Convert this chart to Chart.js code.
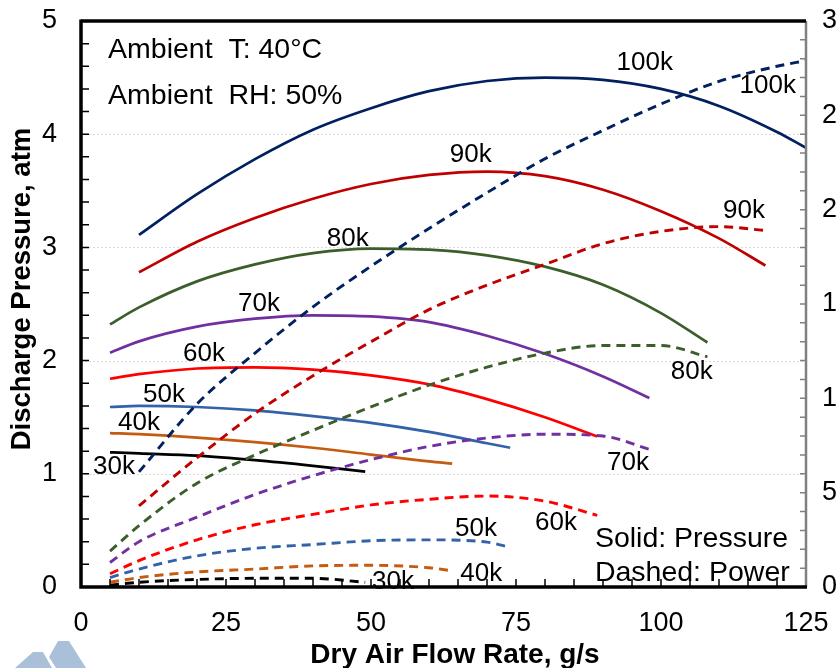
<!DOCTYPE html>
<html>
<head>
<meta charset="utf-8">
<script src="https://cdn.jsdelivr.net/npm/chart.js@4.4.0/dist/chart.umd.min.js"></script>
<style>
  html, body { margin: 0; padding: 0; background: #fff; }
  canvas { display: block; }
</style>
</head>
<body>
<canvas id="c" width="837" height="668"></canvas>
<script>
// compressor map: solid = discharge pressure (atm, left), dashed = power (right axis 0-30)
const flow100 = [10, 20, 30, 40, 50, 60, 70, 80, 90, 100, 110, 120, 125];
const pres100 = [3.11, 3.47, 3.78, 4.04, 4.23, 4.38, 4.47, 4.50, 4.48, 4.40, 4.25, 4.02, 3.88];
const powr100 = [6.1, 9.7, 12.4, 14.85, 17.0, 19.0, 20.9, 22.7, 24.2, 25.6, 26.8, 27.6, 27.9];

const flow90 = [10, 20, 30, 40, 50, 60, 70, 80, 90, 100, 110, 118];
const pres90 = [2.78, 3.05, 3.26, 3.43, 3.56, 3.64, 3.67, 3.63, 3.51, 3.32, 3.08, 2.84];
const powr90 = [4.3, 6.85, 9.2, 11.2, 13.0, 14.7, 16.0, 17.1, 18.2, 18.85, 19.1, 18.9];

const flow80 = [5, 10, 20, 30, 40, 50, 60, 70, 80, 90, 100, 108];
const pres80 = [2.32, 2.47, 2.70, 2.85, 2.95, 2.99, 2.98, 2.93, 2.83, 2.67, 2.42, 2.16];
const powr80 = [1.9, 3.25, 5.5, 7.0, 8.3, 9.55, 10.7, 11.65, 12.4, 12.8, 12.8, 12.2];

const flow70 = [5, 10, 20, 30, 40, 50, 60, 70, 80, 90, 98];
const pres70 = [2.07, 2.17, 2.30, 2.37, 2.40, 2.39, 2.34, 2.22, 2.06, 1.86, 1.67];
const powr70 = [1.3, 2.4, 3.7, 4.9, 5.9, 6.75, 7.45, 7.9, 8.1, 8.0, 7.3];

const flow60 = [5, 10, 20, 30, 40, 50, 60, 70, 80, 89];
const pres60 = [1.84, 1.88, 1.93, 1.94, 1.92, 1.87, 1.79, 1.66, 1.50, 1.33];
const powr60 = [0.7, 1.4, 2.5, 3.3, 3.85, 4.35, 4.65, 4.82, 4.55, 3.8];

const flow50 = [5, 10, 20, 30, 40, 50, 60, 70, 74];
const pres50 = [1.59, 1.60, 1.59, 1.56, 1.51, 1.45, 1.37, 1.27, 1.23];
const powr50 = [0.5, 0.95, 1.65, 2.05, 2.25, 2.45, 2.5, 2.38, 2.1];

const flow40 = [5, 10, 20, 30, 40, 50, 60, 64];
const pres40 = [1.36, 1.35, 1.32, 1.28, 1.23, 1.17, 1.11, 1.09];
const powr40 = [0.25, 0.5, 0.8, 0.95, 1.12, 1.15, 1.02, 0.86];

const flow30 = [5, 10, 20, 30, 40, 49];
const pres30 = [1.19, 1.18, 1.16, 1.12, 1.07, 1.02];
const powr30 = [0.1, 0.25, 0.4, 0.46, 0.46, 0.25];

const speeds = ["100k", "90k", "80k", "70k", "60k", "50k", "40k", "30k"];
const flows = [flow100, flow90, flow80, flow70, flow60, flow50, flow40, flow30];
const pressures = [pres100, pres90, pres80, pres70, pres60, pres50, pres40, pres30];
const powers = [powr100, powr90, powr80, powr70, powr60, powr50, powr40, powr30];
const colors = ["#002060", "#C00000", "#3B5E2B", "#7030A0", "#FF0000", "#3462A8", "#C55A11", "#000000"];

// curve labels: [text, flow, pressure-axis value]
const curveLabels = [
  ["100k", 97.2, 4.63], ["100k", 118.4, 4.43],
  ["90k", 67.2, 3.82], ["90k", 114.3, 3.32],
  ["80k", 46.0, 3.08], ["80k", 105.3, 1.90],
  ["70k", 30.7, 2.50], ["70k", 94.3, 1.10],
  ["60k", 21.2, 2.06], ["60k", 81.9, 0.57],
  ["50k", 14.3, 1.70], ["50k", 68.1, 0.51],
  ["40k", 10.0, 1.45], ["40k", 69.0, 0.115],
  ["30k", 5.7, 1.06], ["30k", 53.8, 0.05]
];
const notes = [
  ["Ambient  T: 40°C", 4.66, 4.74],
  ["Ambient  RH: 50%", 4.66, 4.34],
  ["Solid: Pressure", 88.6, 0.42],
  ["Dashed: Power", 88.6, 0.124]
];

const FONT = "'Liberation Sans', Arial, sans-serif";

const datasets = [];
speeds.forEach((s, i) => {
  const xs = flows[i];
  datasets.push({
    label: s + " pressure",
    data: xs.map((x, j) => ({ x, y: pressures[i][j] })),
    yAxisID: "y",
    borderColor: colors[i],
    borderWidth: 2.7,
    showLine: true,
    pointRadius: 0,
    cubicInterpolationMode: "monotone"
  });
  datasets.push({
    label: s + " power",
    data: xs.map((x, j) => ({ x, y: powers[i][j] })),
    yAxisID: "y2",
    borderColor: colors[i],
    borderWidth: 2.9,
    borderDash: [9, 6],
    showLine: true,
    pointRadius: 0,
    cubicInterpolationMode: "monotone"
  });
});

const framePlugin = {
  id: "frame",
  beforeDatasetsDraw(chart) {
    const { ctx, chartArea: a, scales } = chart;
    ctx.save();
    ctx.strokeStyle = "#d9d9d9";
    ctx.lineWidth = 1;
    ctx.setLineDash([2, 2]);
    for (let v = 1; v <= 4; v++) {
      const y = Math.round(scales.y.getPixelForValue(v)) + 0.5;
      ctx.beginPath();
      ctx.moveTo(a.left, y);
      ctx.lineTo(a.right, y);
      ctx.stroke();
    }
    ctx.restore();
  },
  afterDatasetsDraw(chart) {
    const { ctx, chartArea: a, scales } = chart;
    const { x, y, y2 } = scales;
    ctx.save();
    ctx.setLineDash([]);

    // minor ticks, pointing inward
    ctx.strokeStyle = "#000";
    ctx.lineWidth = 1.5;
    ctx.beginPath();
    for (let v = 0; v <= 5.001; v += 0.2) {
      const py = y.getPixelForValue(v);
      ctx.moveTo(a.left, py);
      ctx.lineTo(a.left + 8, py);
    }
    for (let v = 0; v <= 125; v += 5) {
      const px = x.getPixelForValue(v);
      ctx.moveTo(px, a.bottom);
      ctx.lineTo(px, a.bottom - 8);
    }
    ctx.stroke();

    ctx.strokeStyle = "#808080";
    ctx.beginPath();
    for (let v = 0; v <= 30; v += 1) {
      const py = y2.getPixelForValue(v);
      ctx.moveTo(a.right, py);
      ctx.lineTo(a.right - 6, py);
    }
    ctx.stroke();

    // frame
    ctx.lineWidth = 2.5;
    ctx.strokeStyle = "#808080";
    ctx.beginPath();
    ctx.moveTo(a.right, a.top);
    ctx.lineTo(a.right, a.bottom);
    ctx.stroke();
    ctx.strokeStyle = "#000";
    ctx.lineWidth = 3.5;
    ctx.beginPath();
    ctx.moveTo(a.left, a.top);
    ctx.lineTo(a.right, a.top);
    ctx.stroke();
    ctx.beginPath();
    ctx.moveTo(a.left, a.top - 1.5);
    ctx.lineTo(a.left, a.bottom);
    ctx.lineTo(a.right + 1, a.bottom);
    ctx.stroke();

    // curve labels
    ctx.fillStyle = "#000";
    ctx.font = "26px " + FONT;
    ctx.textAlign = "center";
    ctx.textBaseline = "middle";
    curveLabels.forEach(([t, fx, fy]) => {
      ctx.fillText(t, x.getPixelForValue(fx), y.getPixelForValue(fy));
    });

    ctx.font = "28.5px " + FONT;
    ctx.textAlign = "left";
    notes.forEach(([t, fx, fy]) => {
      ctx.fillText(t, x.getPixelForValue(fx), y.getPixelForValue(fy));
    });

    // axis titles
    ctx.font = "bold 28px " + FONT;
    ctx.textAlign = "center";
    ctx.fillText("Dry Air Flow Rate, g/s", 455, 655);
    ctx.save();
    ctx.translate(22, 289);
    ctx.rotate(-Math.PI / 2);
    ctx.font = "bold 27.5px " + FONT;
    ctx.fillText("Discharge Pressure, atm", 0, 0);
    ctx.restore();

    // faint watermark in the lower-left corner
    ctx.fillStyle = "#aac0d9";
    ctx.beginPath();
    ctx.moveTo(15, 668); ctx.lineTo(33, 652); ctx.lineTo(43, 652); ctx.lineTo(52, 668);
    ctx.closePath();
    ctx.fill();
    ctx.beginPath();
    ctx.moveTo(49, 657); ctx.lineTo(58, 641); ctx.lineTo(69, 641); ctx.lineTo(86, 668); ctx.lineTo(56, 668);
    ctx.closePath();
    ctx.fill();
    ctx.restore();
  }
};

const tickFont = { family: FONT, size: 27 };

// fixed box sizes, no automatic label overhang padding
function fixBox(w, h) {
  return function (s) {
    if (w != null) s.width = w;
    if (h != null) s.height = h;
    s.paddingTop = 0; s.paddingBottom = 0;
    s.paddingLeft = 0; s.paddingRight = 0;
  };
}

new Chart(document.getElementById("c").getContext("2d"), {
  type: "scatter",
  data: { datasets },
  options: {
    responsive: false,
    animation: false,
    layout: { autoPadding: false, padding: { top: 21, left: 0, right: 0, bottom: 0 } },
    plugins: { legend: { display: false }, tooltip: { enabled: false } },
    scales: {
      x: {
        type: "linear", min: 0, max: 125,
        ticks: { stepSize: 25, padding: 20, color: "#000", font: tickFont },
        grid: { display: false, drawTicks: false },
        border: { display: false },
        afterFit: fixBox(null, 81)
      },
      y: {
        position: "left", min: 0, max: 5,
        ticks: { stepSize: 1, padding: 24, color: "#000", font: tickFont },
        grid: { display: false, drawTicks: false },
        border: { display: false },
        afterFit: fixBox(81, null)
      },
      y2: {
        position: "right", min: 0, max: 30,
        ticks: { stepSize: 5, padding: 16, color: "#000", font: tickFont },
        grid: { display: false, drawTicks: false },
        border: { display: false },
        afterFit: fixBox(31, null)
      }
    }
  },
  plugins: [framePlugin]
});
</script>
</body>
</html>
